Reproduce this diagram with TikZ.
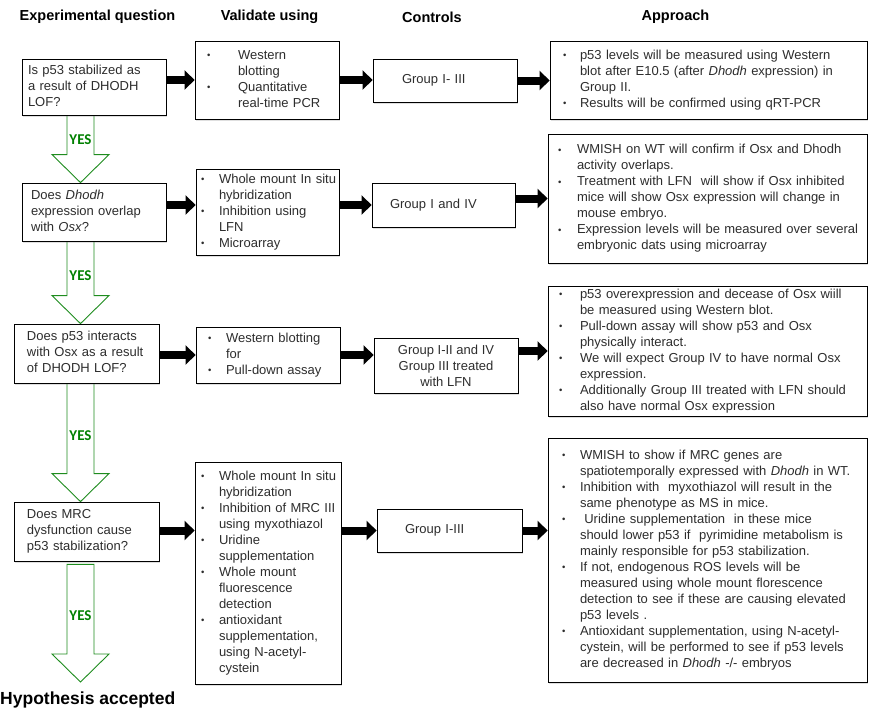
\documentclass[tikz,border=0pt]{standalone}
\usepackage{fontspec}
\setmainfont{Liberation Sans}
\newfontfamily\yesfont{Carlito}
\usetikzlibrary{arrows.meta,calc,shadows,backgrounds}
\definecolor{yesgreen}{RGB}{0,128,0}
\definecolor{yesline}{RGB}{30,140,30}
\definecolor{bodytext}{RGB}{45,45,45}
\newcommand{\bul}[1][18pt]{\makebox[#1][l]{\raisebox{0.6pt}{\fontsize{9.5}{9.5}\selectfont\textbullet}}}
\newcommand{\qlines}[1]{\begin{tabular}{@{}l@{}}#1\end{tabular}}
\newcommand{\bullist}[1]{\begin{tabular}{@{}l@{}l@{}}#1\end{tabular}}
\newcommand{\yesarrow}[2]{%
  \draw[yesshape] ($(#1)+(-13.5,0)$) -- ($(#2)+(-13.5,-28)$) -- ($(#2)+(-28.5,-28)$) -- (#2)
    -- ($(#2)+(28.5,-28)$) -- ($(#2)+(13.5,-28)$) -- ($(#1)+(13.5,0)$) -- cycle;}
\tikzset{
  box/.style={draw=black, line width=0.8pt, fill=white, align=left, inner ysep=0pt,
    font=\fontsize{13}{16}\selectfont, text=bodytext,
    drop shadow={shadow xshift=0.8pt, shadow yshift=-1.5pt, opacity=0.25}},
  head/.style={font=\fontsize{14.5}{17}\selectfont\bfseries, inner sep=0pt},
  yes/.style={font=\yesfont\fontsize{15}{18}\selectfont\bfseries, text=yesgreen, inner sep=0pt},
  yesshape/.style={draw=yesline, line width=0.9pt, fill=white},
  blk/.style={line width=8pt, -{Triangle[length=10pt,width=19pt]}},
}
\begin{document}
\begin{tikzpicture}[x=1pt,y=-1pt]
  \useasboundingbox (0,0) rectangle (881,723);
  % column heads
  \node[head] (hq) at (97.5,17) {Experimental question};
  \node[head] (hv) at (269.5,17) {Validate using};
  \node[head] (hc) at (432,17) {Controls};
  \node[head] (ha) at (675.5,17) {Approach};
  % questions
  \node[box, inner xsep=6pt, text width=132pt, minimum height=56pt] (q1) at (94,87)
    {\qlines{Is p53 stabilized as\\ a result of DHODH\\ LOF?}};
  \node[box, inner xsep=9pt, text width=126pt, minimum height=58pt] (q2) at (94,212)
    {\qlines{Does \textit{Dhodh}\\ expression overlap\\ with \textit{Osx}?}};
  \node[box, inner xsep=13pt, text width=119pt, minimum height=59pt] (q3) at (86.5,353.5)
    {\qlines{Does p53 interacts\\ with Osx as a result\\ of DHODH LOF?}};
  \node[box, inner xsep=13pt, text width=119pt, minimum height=59pt] (q4) at (86.5,531.5)
    {\qlines{Does MRC\\ dysfunction cause\\ p53 stabilization?}};
  % validation
  \node[box, inner xsep=12pt, text width=120pt, minimum height=78pt] (v1) at (267,80)
    {\bullist{\bul[31pt] & Western\\ & blotting\\ \bul[31pt] & Quantitative\\ & real-time PCR}};
  \node[box, inner xsep=5pt, text width=133pt, minimum height=86pt] (v2) at (267.5,212)
    {\bullist{\bul & Whole mount In situ\\ & hybridization\\ \bul & Inhibition using\\ & LFN\\ \bul & Microarray}};
  \node[box, inner xsep=12pt, text width=120pt, minimum height=56pt] (v3) at (268,355)
    {\bullist{\bul & Western blotting\\ & for\\ \bul & Pull-down assay}};
  \node[box, inner xsep=6pt, text width=134pt, minimum height=222pt] (v4) at (268,573)
    {\bullist{\bul & Whole mount In situ\\ & hybridization\\ \bul & Inhibition of MRC III\\ & using myxothiazol\\
      \bul & Uridine\\ & supplementation\\ \bul & Whole mount\\ & fluorescence\\ & detection\\
      \bul & antioxidant\\ & supplementation,\\ & using N-acetyl-\\ & cystein}};
  % controls
  \node[box, inner xsep=29pt, text width=86pt, minimum height=43pt] (c1) at (445,80.5)
    {\qlines{Group I- III}};
  \node[box, inner xsep=18pt, text width=107pt, minimum height=44pt] (c2) at (443.5,205)
    {\qlines{Group I and IV}};
  \node[box, align=center, minimum width=144pt, minimum height=55pt] (c3) at (446,365.5)
    {Group I-II and IV\\ Group III treated\\ with LFN};
  \node[box, inner xsep=28pt, text width=89pt, minimum height=43pt] (c4) at (449.5,530.5)
    {\qlines{Group I-III}};
  % approach
  \node[box, inner xsep=13pt, text width=291pt, minimum height=78pt] (a1) at (708.5,80)
    {\bullist{\bul[17pt] & p53 levels will be measured using Western\\
      & blot after E10.5 (after \textit{Dhodh} expression) in\\ & Group II.\\
      \bul[17pt] & Results will be confirmed using qRT-PCR}};
  \node[box, inner xsep=10pt, text width=299pt, minimum height=129pt] (a2) at (707.5,198.5)
    {\bullist{\bul[19pt] & WMISH on WT will confirm if Osx and Dhodh\\ & activity overlaps.\\
      \bul[19pt] & Treatment with LFN\ \ will show if Osx inhibited\\
      & mice will show Osx expression will change in\\ & mouse embryo.\\
      \bul[19pt] & Expression levels will be measured over several\\ & embryonic dats using microarray}};
  \node[box, inner xsep=11pt, text width=297pt, minimum height=130pt] (a3) at (707.5,351)
    {\bullist{\bul[21pt] & p53 overexpression and decease of Osx wiill\\ & be measured using Western blot.\\
      \bul[21pt] & Pull-down assay will show p53 and Osx\\ & physically interact.\\
      \bul[21pt] & We will expect Group IV to have normal Osx\\ & expression.\\
      \bul[21pt] & Additionally Group III treated with LFN should\\ & also have normal Osx expression}};
  \node[box, inner xsep=14pt, text width=291pt, minimum height=244pt] (a4) at (707.5,560)
    {\bullist{\bul & WMISH to show if MRC genes are\\ & spatiotemporally expressed with \textit{Dhodh} in WT.\\
      \bul & Inhibition with\ \ myxothiazol will result in the\\ & same phenotype as MS in mice.\\
      \bul & \ Uridine supplementation\ \ in these mice\\ & should lower p53 if\ \ pyrimidine metabolism is\\
      & mainly responsible for p53 stabilization.\\
      \bul & If not, endogenous ROS levels will be\\ & measured using whole mount florescence\\
      & detection to see if these are causing elevated\\ & p53 levels .\\
      \bul & Antioxidant supplementation, using N-acetyl-\\ & cystein, will be performed to see if p53 levels\\
      & are decreased in \textit{Dhodh} -/- embryos}};
  % yes arrows
  \coordinate (axis) at (80.5,0);
  \coordinate (s1) at (axis |- q1.south);
  \coordinate (e1) at (axis |- q2.north);
  \coordinate (s2) at (axis |- q2.south);
  \coordinate (e2) at (axis |- q3.north);
  \coordinate (s3) at (axis |- q3.south);
  \coordinate (e3) at (axis |- q4.north);
  \coordinate (s4) at ($(axis |- q4.south)+(0,3)$);
  \coordinate (e4) at (80.5,682);
  \begin{scope}[on background layer]
    \yesarrow{s1}{e1}
    \yesarrow{s2}{e2}
    \yesarrow{s3}{e3}
    \yesarrow{s4}{e4}
  \end{scope}
  \node[yes] (yes1) at (80.5,140) {YES};
  \node[yes] (yes2) at (80.5,276) {YES};
  \node[yes] (yes3) at (80.5,436) {YES};
  \node[yes] (yes4) at (80.5,616) {YES};
  \node[anchor=west, inner sep=0pt, font=\fontsize{17.5}{20}\selectfont\bfseries] (hyp) at (0,700)
    {Hypothesis accepted};
  % black arrows
  \draw[blk] (q1.east |- v1.west) -- (v1.west);
  \draw[blk] (v1.east) -- (v1.east -| c1.west);
  \draw[blk] (c1.east) -- (c1.east -| a1.west);
  \draw[blk] (q2.east |- c2.west) -- (v2.west |- c2.west);
  \draw[blk] (v2.east |- c2.west) -- (c2.west);
  \draw[blk] (c2.east |- a2.west) -- (a2.west);
  \draw[blk] (q3.east |- v3.west) -- (v3.west);
  \draw[blk] (v3.east) -- (v3.east -| c3.west);
  \draw[blk] (c3.east |- a3.west) -- (a3.west);
  \draw[blk] (q4.east |- c4.west) -- (v4.west |- c4.west);
  \draw[blk] (v4.east |- c4.west) -- (c4.west);
  \draw[blk] (c4.east) -- (c4.east -| a4.west);
\end{tikzpicture}
\end{document}
